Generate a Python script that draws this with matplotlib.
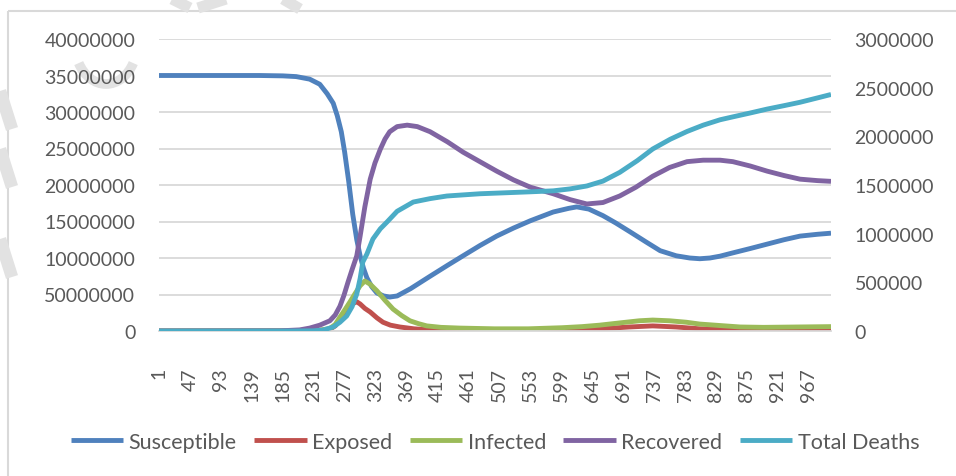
import matplotlib
matplotlib.use("Agg")
from matplotlib import pyplot as plt
from matplotlib.patches import Arc, Rectangle
from matplotlib.ticker import FixedLocator, FixedFormatter

# --- data ---
sus_days = [1, 150, 185, 205, 225, 240, 251, 260, 266, 272, 277, 283, 289, 295, 300, 305, 310, 317,
            325, 335, 344, 355, 375, 404, 430, 453, 478, 503, 528, 553, 587, 610, 622, 640, 661, 680,
            701, 725, 746, 770, 790, 805, 820, 835, 854, 880, 905, 930, 954, 980, 1000]
susceptible = [35.0, 35.0, 34.95, 34.85, 34.5, 33.8, 32.5, 31.2, 29.5, 27.3, 24.5, 20.5, 16.0, 12.5,
               10.3, 8.6, 7.3, 6.1, 5.2, 4.8, 4.65, 4.8, 5.8, 7.5, 9.0, 10.3, 11.7, 13.0, 14.1, 15.1,
               16.3, 16.8, 17.0, 16.7, 15.8, 14.8, 13.6, 12.2, 11.0, 10.3, 10.0, 9.9, 10.0, 10.25, 10.7,
               11.3, 11.9, 12.5, 13.0, 13.25, 13.4]

exp_days = [1, 220, 240, 255, 263, 270, 278, 285, 290, 295, 300, 307, 315, 325, 334, 345, 359, 380,
            404, 450, 550, 620, 667, 700, 735, 770, 805, 865, 1000]
exposed = [0, 0.01, 0.08, 0.25, 0.7, 1.6, 2.6, 3.4, 3.8, 4.0, 3.7, 3.1, 2.6, 1.8, 1.2, 0.8, 0.55, 0.3,
           0.15, 0.05, 0.05, 0.15, 0.35, 0.55, 0.7, 0.55, 0.3, 0.1, 0.1]

inf_days = [1, 220, 240, 255, 263, 270, 278, 285, 293, 300, 307, 315, 325, 337, 349, 362, 374, 387,
            399, 420, 448, 500, 550, 600, 630, 656, 690, 715, 735, 760, 785, 805, 835, 865, 900, 950, 1000]
infected = [0, 0.02, 0.1, 0.35, 0.9, 1.9, 3.0, 4.0, 5.2, 6.2, 6.85, 6.4, 5.5, 4.2, 3.0, 2.1, 1.4, 1.0,
            0.7, 0.5, 0.4, 0.3, 0.3, 0.45, 0.6, 0.8, 1.15, 1.4, 1.5, 1.4, 1.2, 0.95, 0.75, 0.55, 0.5,
            0.55, 0.6]

rec_days = [1, 180, 210, 225, 240, 255, 263, 270, 276, 282, 288, 295, 300, 307, 315, 322, 330, 337,
            344, 355, 370, 385, 404, 430, 453, 478, 503, 528, 553, 587, 612, 637, 661, 686, 710, 735,
            760, 786, 810, 835, 854, 880, 905, 930, 954, 980, 1000]
recovered = [0, 0.02, 0.15, 0.4, 0.8, 1.4, 2.2, 3.4, 4.9, 6.7, 8.4, 10.3, 13.0, 17.0, 20.8, 23.0, 24.9,
             26.3, 27.3, 28.0, 28.2, 28.0, 27.3, 25.9, 24.5, 23.2, 21.9, 20.7, 19.7, 18.8, 18.0, 17.4,
             17.6, 18.5, 19.7, 21.2, 22.4, 23.2, 23.4, 23.4, 23.2, 22.6, 21.9, 21.3, 20.8, 20.6, 20.5]

death_days = [1, 200, 231, 245, 260, 270, 280, 288, 295, 300, 304, 310, 319, 330, 340, 355, 379, 404,
              429, 478, 553, 587, 612, 637, 661, 686, 712, 735, 761, 786, 810, 835, 854, 880, 905,
              930, 954, 980, 1000]
deaths = [0, 0, 2, 10, 41, 90, 154, 250, 380, 540, 709, 790, 945, 1050, 1120, 1230, 1325, 1360, 1387,
          1410, 1430, 1440, 1460, 1490, 1540, 1630, 1750, 1870, 1970, 2050, 2115, 2170, 2200, 2240,
          2280, 2315, 2350, 2395, 2430]

x_ticks = list(range(1, 1000, 46))
left_ticks = [0, 5e6, 10e6, 15e6, 20e6, 25e6, 30e6, 35e6, 40e6]
left_labels = ["0", "50000000", "10000000", "15000000", "20000000", "25000000",
               "30000000", "35000000", "40000000"]
right_ticks = [0, 5e5, 1e6, 1.5e6, 2e6, 2.5e6, 3e6]
right_labels = ["0", "500000", "1000000", "1500000", "2000000", "2500000", "3000000"]

colors = {"Susceptible": "#4F81BD", "Exposed": "#C0504D", "Infected": "#9BBB59",
          "Recovered": "#8064A2", "Total Deaths": "#4BACC6"}

plt.rcParams['font.family'] = ['Lato', 'DejaVu Sans']
txt = "#595959"
fs = 14

W, H = 956, 477
fig = plt.figure(figsize=(W / 100, H / 100), dpi=100)

# background layer: chart frame and faint watermark strokes
bg = fig.add_axes([0, 0, 1, 1], zorder=-5)
bg.set_xlim(0, W)
bg.set_ylim(H, 0)
bg.axis("off")
wm = "#e2e2e2"
bg.add_patch(Arc((106, 45), 62, 80, theta1=35, theta2=145, color=wm, lw=7))
bg.plot([172, 190], [0, 9], color=wm, lw=8, solid_capstyle="butt")
bg.plot([226, 198], [0, 9], color=wm, lw=8, solid_capstyle="butt")
bg.plot([283, 300], [0, 10], color=wm, lw=8, solid_capstyle="butt")
for y0 in [92, 150, 240]:
    bg.plot([0, 12], [y0, y0 + 38], color=wm, lw=9, solid_capstyle="butt")
bg.add_patch(Rectangle((8.5, 11.5), W + 20, H + 20, fill=False, ec="#d9d9d9", lw=1.5))

L, R, T, B = 159, 831, 40, 332
ax = fig.add_axes([L / W, 1 - B / H, (R - L) / W, (B - T) / H])
ax.set_facecolor("none")

lw = 3.5
style = dict(lw=lw, solid_joinstyle="round", solid_capstyle="butt")
lines = []
lines += ax.plot(sus_days, [v * 1e6 for v in susceptible], color=colors["Susceptible"],
                 label="Susceptible", **style)
lines += ax.plot(exp_days, [v * 1e6 for v in exposed], color=colors["Exposed"],
                 label="Exposed", **style)
lines += ax.plot(inf_days, [v * 1e6 for v in infected], color=colors["Infected"],
                 label="Infected", **style)
lines += ax.plot(rec_days, [v * 1e6 for v in recovered], color=colors["Recovered"],
                 label="Recovered", **style)

ax2 = ax.twinx()
lines += ax2.plot(death_days, [v * 1e3 for v in deaths], color=colors["Total Deaths"],
                  label="Total Deaths", **style)

ax.set_xlim(1, 1000)
ax.set_ylim(0, 40e6)
ax2.set_ylim(0, 3e6)

ax.yaxis.set_major_locator(FixedLocator(left_ticks))
ax.yaxis.set_major_formatter(FixedFormatter(left_labels))
ax2.yaxis.set_major_locator(FixedLocator(right_ticks))
ax2.yaxis.set_major_formatter(FixedFormatter(right_labels))
ax.set_xticks(x_ticks)
ax.set_xticklabels([str(t) for t in x_ticks], rotation=90)

ax.grid(axis="y", color="#d9d9d9", lw=1.3)
ax.set_axisbelow(True)
for a in (ax, ax2):
    for s in a.spines.values():
        s.set_visible(False)
ax.spines["bottom"].set_visible(True)
ax.spines["bottom"].set_color("#d9d9d9")
ax.spines["bottom"].set_linewidth(1.3)

ax.tick_params(axis="y", length=0, pad=17, labelsize=fs, labelcolor=txt)
ax2.tick_params(axis="y", length=0, pad=17, labelsize=fs, labelcolor=txt)
ax.tick_params(axis="x", length=0, pad=26, labelsize=fs, labelcolor=txt)

leg = fig.legend(handles=lines, loc="center", bbox_to_anchor=((L + R) / 2 / W, 1 - 443 / H),
                 ncol=5, frameon=False, fontsize=15.5, handlelength=2.45, handletextpad=0.25,
                 columnspacing=0.8, labelcolor=txt)

fig.savefig("out.png", dpi=100)
